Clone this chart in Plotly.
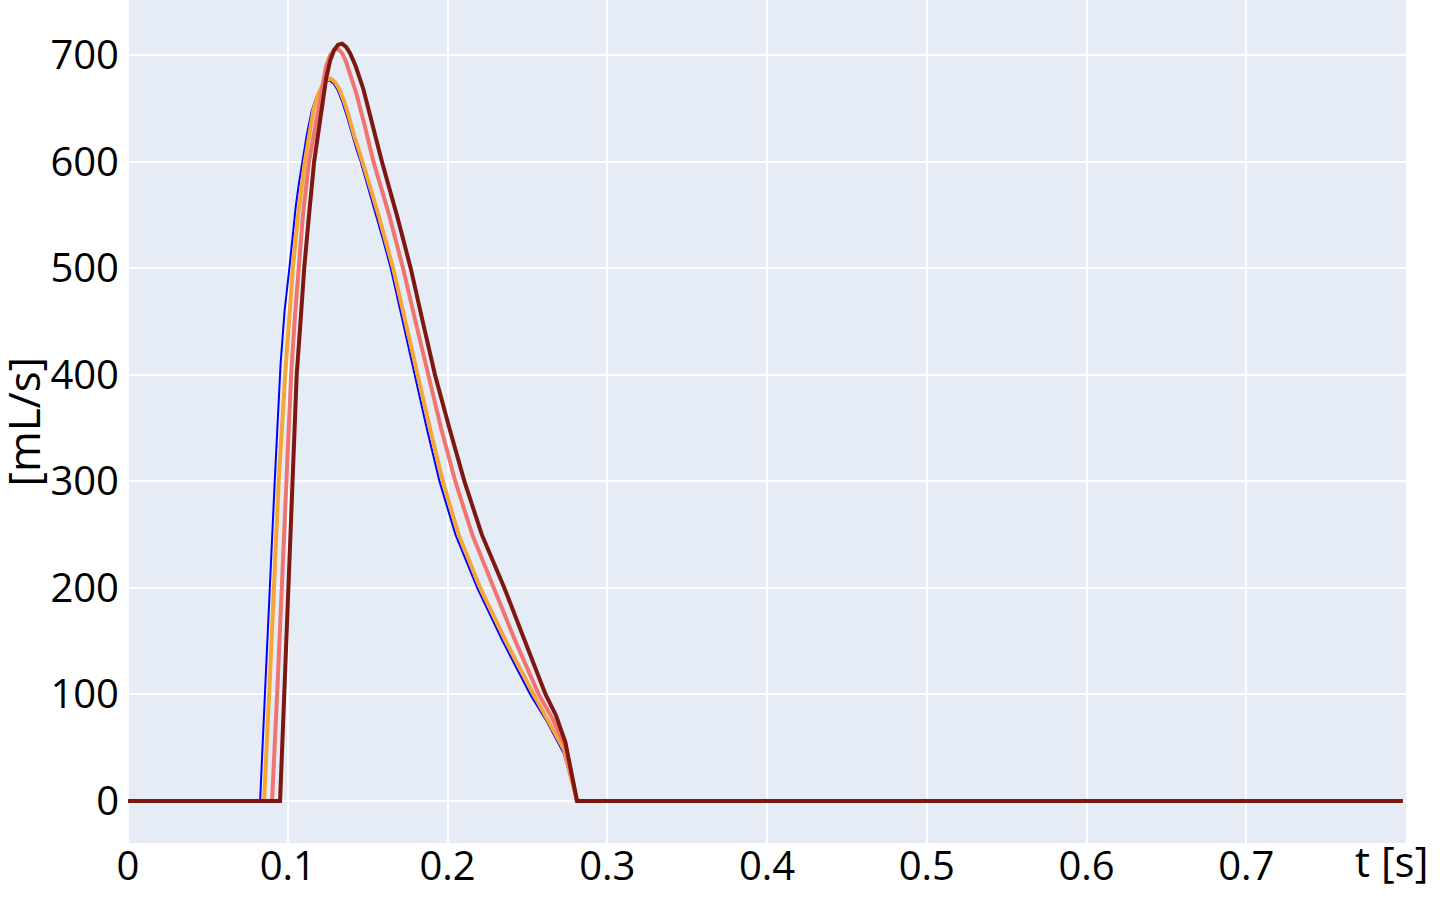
import plotly.graph_objects as go

# ---- data ----
t_blue = [0, 0.0827, 0.086, 0.089, 0.092, 0.0955, 0.098, 0.101, 0.103, 0.105, 0.107, 0.109, 0.112,
          0.115, 0.118, 0.121, 0.1235, 0.126, 0.1285, 0.131, 0.134, 0.137, 0.140, 0.143, 0.1457,
          0.150, 0.1556, 0.160, 0.1645, 0.172, 0.1795, 0.187, 0.195, 0.205, 0.2186, 0.2345, 0.2518,
          0.262, 0.2727, 0.281, 0.798]
v_blue = [0, 0, 110, 210, 305, 410, 460, 500, 532, 558, 580, 600, 626,
          648, 661, 670, 675, 676.5, 674, 668, 657, 643, 627, 612, 600,
          578, 550, 525, 500, 450, 400, 350, 300, 250, 200, 150, 100,
          75, 45, 0, 0]

t_orange = [0, 0.0852, 0.0885, 0.0915, 0.0945, 0.0984, 0.1005, 0.1032, 0.1065, 0.1107, 0.1161,
            0.119, 0.122, 0.1245, 0.127, 0.1295, 0.132, 0.135, 0.138, 0.1415, 0.1468, 0.1568,
            0.166, 0.1736, 0.1812, 0.189, 0.1971, 0.207, 0.2205, 0.2365, 0.2539, 0.263, 0.273,
            0.281, 0.798]
v_orange = [0, 0, 105, 205, 305, 400, 450, 500, 550, 600, 649,
            663, 673, 677, 678, 675, 669, 658, 644, 625, 600, 550,
            500, 450, 400, 350, 300, 250, 200, 150, 100, 76, 48,
            0, 0]

t_salmon = [0, 0.0902, 0.0935, 0.0965, 0.0995, 0.1021, 0.1045, 0.1067, 0.1095, 0.1133, 0.1193,
            0.1215, 0.124, 0.1265, 0.129, 0.1315, 0.134, 0.1365, 0.1395, 0.1428, 0.148, 0.1537,
            0.1635, 0.1722, 0.180, 0.1878, 0.196, 0.2049, 0.2155, 0.229, 0.2425, 0.2571, 0.2655,
            0.2735, 0.281, 0.798]
v_salmon = [0, 0, 105, 210, 310, 400, 455, 500, 550, 600, 649,
            672, 690, 700, 705, 706, 702, 694, 680, 665, 635, 600,
            550, 500, 450, 400, 350, 300, 250, 200, 150, 100, 78,
            52, 0, 0]

t_dark = [0, 0.0952, 0.0978, 0.1004, 0.103, 0.1056, 0.108, 0.1103, 0.113, 0.1165, 0.1213,
          0.124, 0.1265, 0.129, 0.1315, 0.134, 0.1365, 0.139, 0.1425, 0.1474, 0.153, 0.159,
          0.1683, 0.177, 0.1845, 0.1922, 0.2012, 0.2106, 0.2215, 0.2356, 0.2485, 0.2614, 0.268,
          0.2738, 0.2811, 0.798]
v_dark = [0, 0, 100, 200, 300, 400, 450, 500, 545, 600, 650,
          678, 695, 705, 710, 711, 708, 702, 690, 668, 635, 600,
          550, 500, 450, 400, 350, 300, 250, 200, 150, 100, 80,
          55, 0, 0]

x_ticks = [0, 0.1, 0.2, 0.3, 0.4, 0.5, 0.6, 0.7]
x_tick_text = ["0", "0.1", "0.2", "0.3", "0.4", "0.5", "0.6", "0.7"]
y_ticks = [0, 100, 200, 300, 400, 500, 600, 700]

FONT = "Open Sans"

fig = go.Figure()
fig.add_trace(go.Scatter(x=t_blue, y=v_blue, mode="lines", line=dict(color="#0000FF", width=2), showlegend=False))
fig.add_trace(go.Scatter(x=t_orange, y=v_orange, mode="lines", line=dict(color="#F5A637", width=4), showlegend=False))
fig.add_trace(go.Scatter(x=t_salmon, y=v_salmon, mode="lines", line=dict(color="#F07571", width=4), showlegend=False))
fig.add_trace(go.Scatter(x=t_dark, y=v_dark, mode="lines", line=dict(color="#7E1710", width=4), showlegend=False))

fig.update_layout(
    template="plotly",
    width=1440, height=898,
    margin=dict(l=128, r=34, t=0, b=55, autoexpand=False),
    font=dict(family=FONT, size=40, color="black"),
    xaxis=dict(range=[0, 0.8], tickvals=x_ticks, ticktext=x_tick_text, automargin=False,
               tickfont=dict(size=40, color="black"), ticklabelstandoff=-4,
               showgrid=True, gridwidth=2, zeroline=True, zerolinewidth=2),
    yaxis=dict(range=[-39.5, 752], tickvals=y_ticks, tickfont=dict(size=40, color="black"),
               automargin=False, ticklabelstandoff=8,
               showgrid=True, gridwidth=2, zeroline=True, zerolinewidth=2),
    annotations=[
        dict(text="t [s]", x=1.0, xref="paper", xanchor="right", xshift=24,
             y=0, yref="paper", yanchor="middle", yshift=-17,
             showarrow=False, font=dict(size=42, color="black")),
        dict(text="[mL/s]", textangle=-90, x=0, xref="paper", xanchor="center", xshift=-106,
             y=0.5, yref="paper", yanchor="middle",
             showarrow=False, font=dict(size=44, color="black")),
    ],
)

fig.write_html("out.html", post_script="document.body.style.margin='0';",
               config={"displayModeBar": False})
